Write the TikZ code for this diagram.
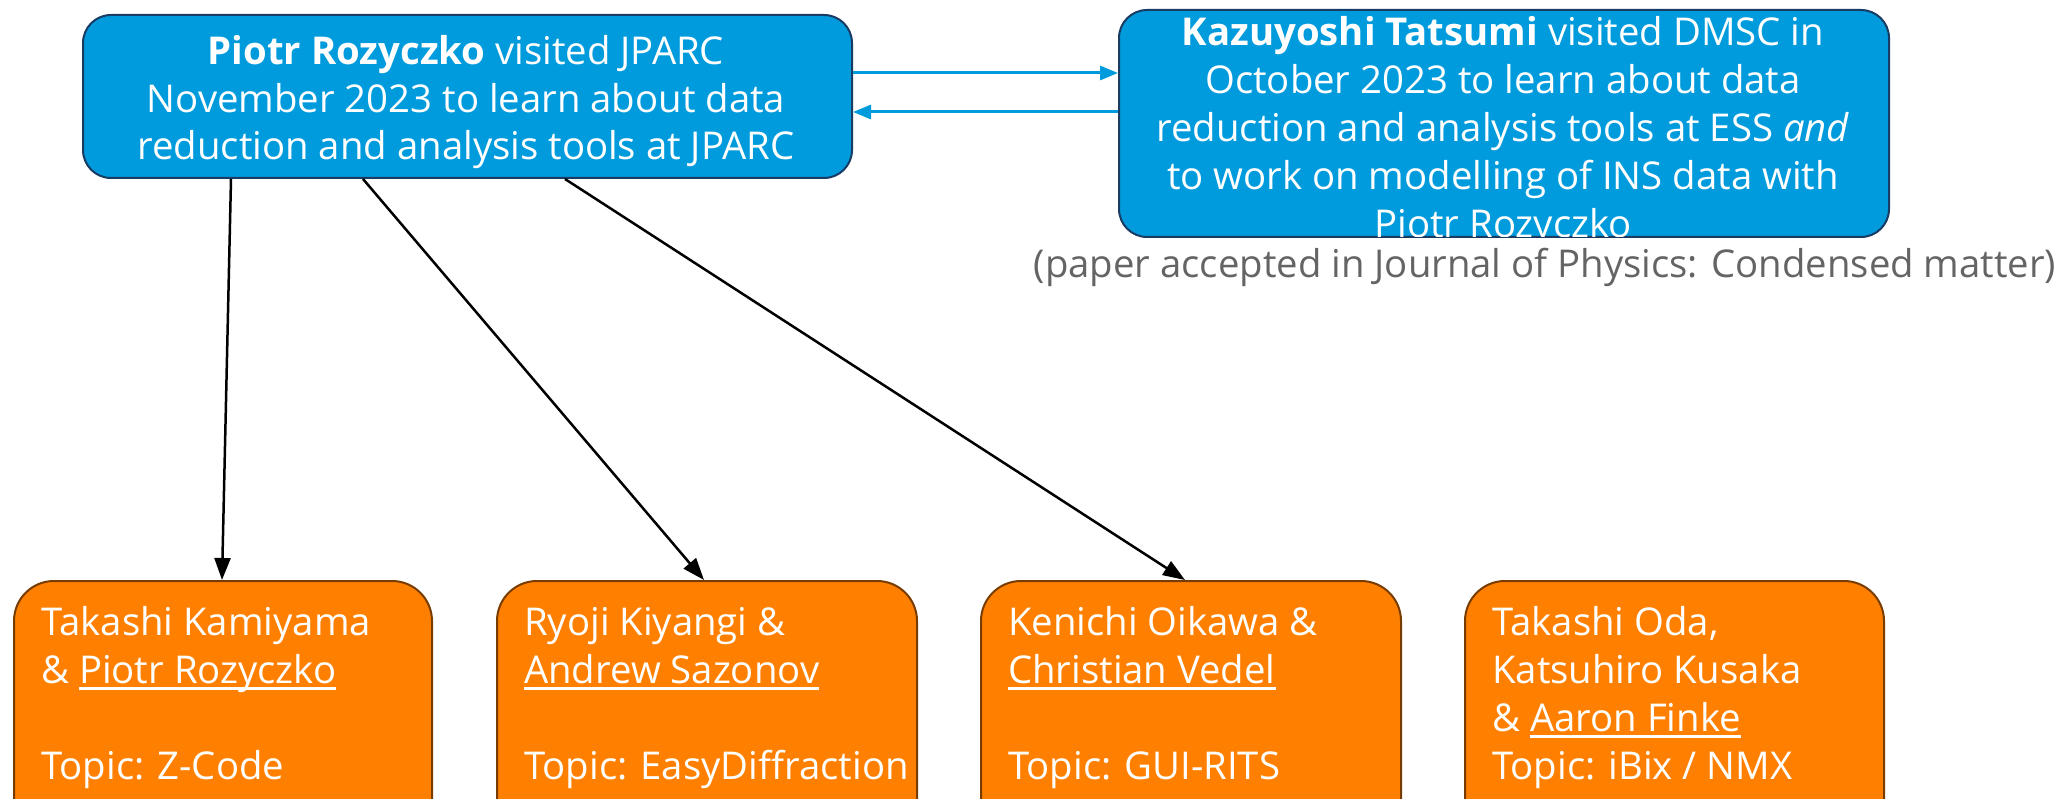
\documentclass[tikz,border=0pt]{standalone}
\usepackage{fontspec}
\setmainfont{Open Sans}
\usetikzlibrary{arrows.meta}
\newcommand\myuline[1]{\leavevmode\setbox0=\hbox{#1}\rlap{\rule[-6.5pt]{\wd0}{2.5pt}}\box0}
\definecolor{boxblue}{RGB}{0,155,220}
\definecolor{blueedge}{RGB}{25,60,100}
\definecolor{boxorange}{RGB}{255,128,0}
\definecolor{orangeedge}{RGB}{120,60,0}
\definecolor{captiongray}{RGB}{100,100,100}
\begin{document}
\begin{tikzpicture}[x=1pt,y=-1pt,
  bluebox/.style={draw=blueedge, line width=2pt, fill=boxblue, rounded corners=28pt, inner sep=0pt},
  orangebox/.style={draw=orangeedge, line width=2pt, fill=boxorange, rounded corners=40pt, inner sep=0pt},
  txt/.style={font=\fontsize{38.3}{48}\selectfont, text=white, inner sep=0pt},
  bluearrow/.style={draw=boxblue, line width=3pt, -{Triangle[length=18pt,width=14pt]}},
  blackarrow/.style={draw=black, line width=2.5pt, -{Triangle[length=22pt,width=16pt]}}]
\useasboundingbox (0,0) rectangle (2069,799);
\clip (0,0) rectangle (2069,799);
% top boxes
\node[bluebox, minimum width=769pt, minimum height=163pt, anchor=north west] (pbox) at (82,14) {};
\node[bluebox, minimum width=770pt, minimum height=227pt, anchor=north west] (kbox) at (1118,9) {};
\node[txt, align=center, anchor=base, font=\fontsize{38.3}{47.5}\selectfont] (ptext) at (466,160)
  {\textbf{Piotr Rozyczko} visited JPARC\\November 2023 to learn about data\\reduction and analysis tools at JPARC};
\begin{scope}
\clip[rounded corners=28pt] (kbox.north west) rectangle ([yshift=1pt]kbox.south east);
\node[txt, align=center, anchor=base] (ktext) at (1503,238)
  {\textbf{Kazuyoshi Tatsumi} visited DMSC in\\October 2023 to learn about data\\reduction and analysis tools at ESS \textit{and}\\to work on modelling of INS data with\\Piotr Rozyczko};
\end{scope}
\node[txt, text=captiongray, anchor=base] (cap) at (1545,278)
  {(paper accepted in Journal of Physics: Condensed matter)};
% bottom boxes
\node[orangebox, minimum width=418pt, minimum height=280pt, anchor=north west] (zbox) at (13,580) {};
\node[orangebox, minimum width=420pt, minimum height=280pt, anchor=north west] (ebox) at (496,580) {};
\node[orangebox, minimum width=420pt, minimum height=280pt, anchor=north west] (gbox) at (980,580) {};
\node[orangebox, minimum width=419pt, minimum height=280pt, anchor=north west] (ibox) at (1464,580) {};
\node[txt, align=left, anchor=base west] (ztext) at (41,779)
  {Takashi Kamiyama\\\& \myuline{Piotr Rozyczko}\\[48pt]Topic: Z-Code};
\node[txt, align=left, anchor=base west] (etext) at (524,779)
  {Ryoji Kiyangi \&\\\myuline{Andrew Sazonov}\\[48pt]Topic: EasyDiffraction};
\node[txt, align=left, anchor=base west] (gtext) at (1008,779)
  {Kenichi Oikawa \&\\\myuline{Christian Vedel}\\[48pt]Topic: GUI-RITS};
\node[txt, align=left, anchor=base west] (itext) at (1492,779)
  {Takashi Oda,\\Katsuhiro Kusaka\\\& \myuline{Aaron Finke}\\Topic: iBix / NMX};
% connectors
\coordinate (upper) at (0,73);
\coordinate (lower) at (0,112);
\draw[bluearrow] (pbox.east |- upper) -- (kbox.west |- upper);
\draw[bluearrow] (kbox.west |- lower) -- (pbox.east |- lower);
\draw[blackarrow] ([xshift=149pt]pbox.south west) -- ([xshift=209pt]zbox.north west);
\draw[blackarrow] ([xshift=281pt]pbox.south west) -- ([xshift=208pt]ebox.north west);
\draw[blackarrow] ([xshift=483pt]pbox.south west) -- ([xshift=205pt]gbox.north west);
\end{tikzpicture}
\end{document}
